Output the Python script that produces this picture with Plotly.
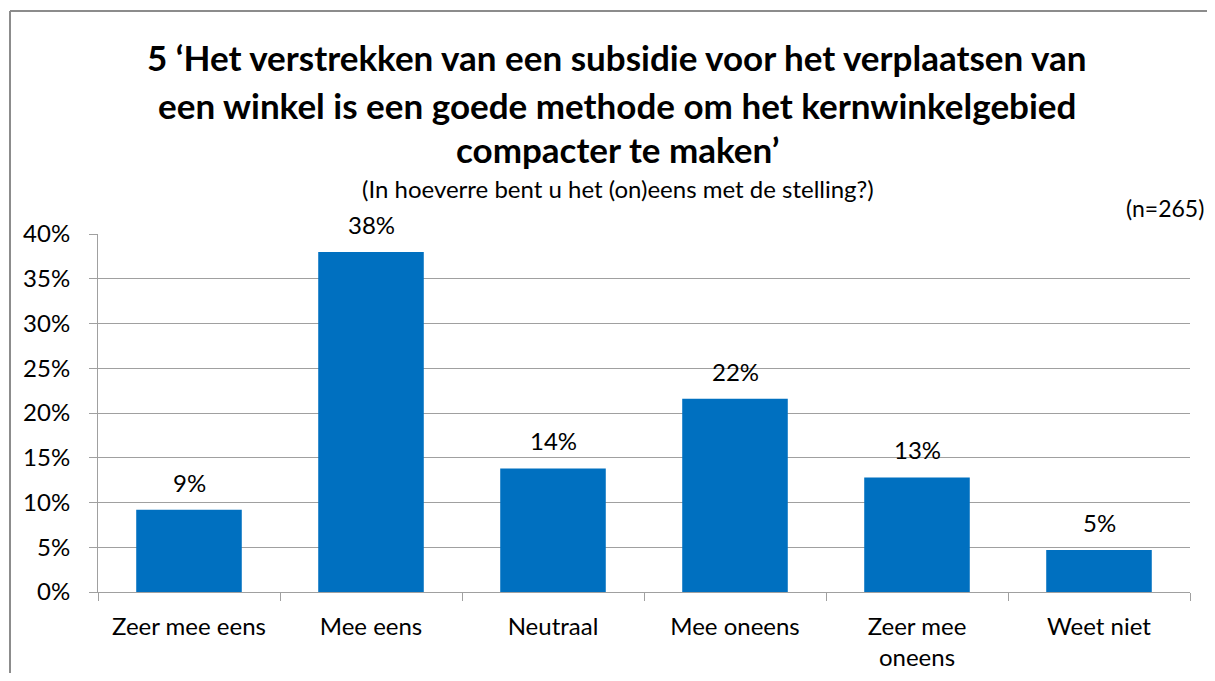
import plotly.graph_objects as go

categories = ["Zeer mee eens", "Mee eens", "Neutraal", "Mee oneens", "Zeer mee<br>oneens", "Weet niet"]
values = [9.2, 38.0, 13.8, 21.6, 12.8, 4.7]
labels = ["9%", "38%", "14%", "22%", "13%", "5%"]
y_ticks = [0, 5, 10, 15, 20, 25, 30, 35, 40]
y_tick_text = ["0%", "5%", "10%", "15%", "20%", "25%", "30%", "35%", "40%"]

title_lines = [
    "5 \u2018Het verstrekken van een subsidie voor het verplaatsen van",
    "een winkel is een goede methode om het kernwinkelgebied",
    "compacter te maken\u2019",
]
subtitle = "(In hoeverre bent u het (on)eens met de stelling?)"
n_note = "(n=265)"

FONT = "Lato"
# page is rendered with an 8px body margin; figure is sized/margined to compensate
OFF = 8
W, H = 1215 - OFF, 681 - 2 * OFF
PL, PR, PT, PB = 98, 1190, 234, 592  # plot area in page pixels
L, R, T, B = PL - OFF, 1215 - PR, PT - OFF, (681 - 2 * OFF) - (PB - OFF)
pw, ph = PR - PL, PB - PT

def px_x(x):
    return (x - PL) / pw

def px_y(y):
    return (PB - y) / ph

fig = go.Figure()
fig.add_trace(go.Bar(
    x=categories, y=values,
    marker=dict(color="#0070C0", line=dict(width=0)),
    hoverinfo="skip",
))

ann = []
for c, v, t in zip(categories, values, labels):
    ann.append(dict(x=c, y=v, xref="x", yref="y", text=t, showarrow=False,
                    yanchor="bottom", yshift=11,
                    font=dict(family=FONT, size=24, color="#000000")))

title_y = [57, 105, 149]
for line, yy in zip(title_lines, title_y):
    ann.append(dict(x=px_x(617), y=px_y(yy), xref="paper", yref="paper", text=line,
                    showarrow=False, xanchor="center", yanchor="middle",
                    font=dict(family=FONT, size=35, color="#000000", weight="bold")))
ann.append(dict(x=px_x(618), y=px_y(188), xref="paper", yref="paper", text=subtitle,
                showarrow=False, xanchor="center", yanchor="middle",
                font=dict(family=FONT, size=24, color="#000000")))
ann.append(dict(x=px_x(1206), y=px_y(208), xref="paper", yref="paper", text=n_note,
                showarrow=False, xanchor="right", yanchor="middle",
                font=dict(family=FONT, size=23, color="#000000")))

border = dict(color="#8c8c8c", width=2)
fig.update_layout(
    width=W, height=H,
    margin=dict(l=L, r=R, t=T, b=B, pad=0, autoexpand=False),
    paper_bgcolor="white", plot_bgcolor="white",
    bargap=0.42,
    showlegend=False,
    annotations=ann,
    font=dict(family=FONT, size=24, color="#000000"),
    shapes=[
        dict(type="line", xref="paper", yref="paper",
             x0=px_x(10), x1=px_x(10), y0=px_y(681), y1=px_y(11),
             line=border, layer="below"),
        dict(type="line", xref="paper", yref="paper",
             x0=px_x(10), x1=px_x(1215), y0=px_y(11), y1=px_y(11),
             line=border, layer="below"),
    ],
)
fig.update_yaxes(
    range=[0, 40], tickmode="array", tickvals=y_ticks, ticktext=y_tick_text,
    showgrid=True, gridcolor="#a0a0a0", gridwidth=1,
    showline=True, linecolor="#a0a0a0", linewidth=1,
    ticks="outside", ticklen=8, tickcolor="#a0a0a0",
    ticklabelstandoff=14, automargin=False,
    tickfont=dict(family=FONT, size=24, color="#000000"),
    zeroline=False,
)
fig.update_xaxes(
    showline=True, linecolor="#a0a0a0", linewidth=1,
    ticks="outside", ticklen=8, tickcolor="#a0a0a0", tickson="boundaries",
    tickfont=dict(family=FONT, size=24, color="#000000"),
    ticklabelstandoff=13, automargin=False,
)

fig.write_html("out.html")
